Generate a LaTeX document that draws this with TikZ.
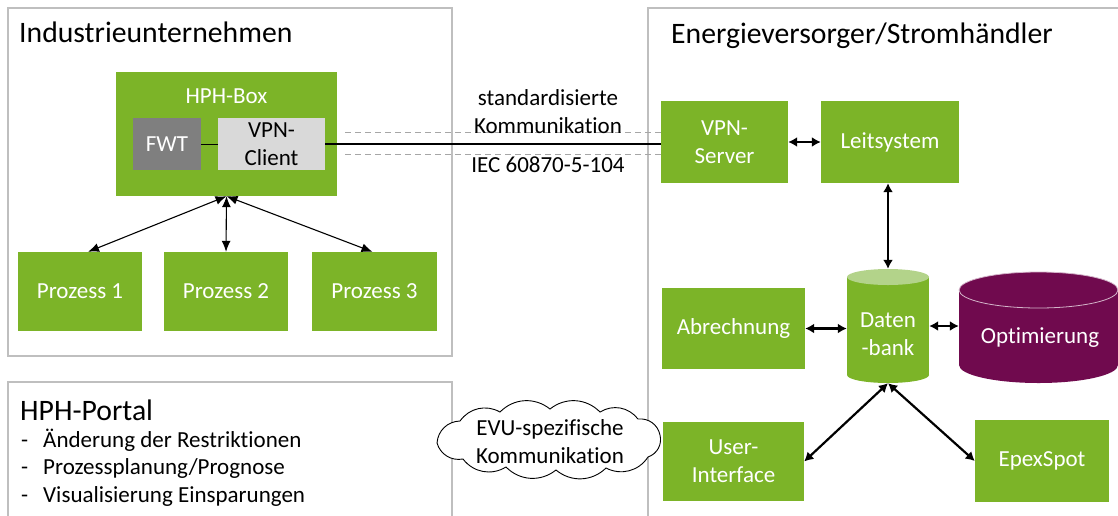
\documentclass[tikz,border=0pt]{standalone}
\usepackage{fontspec}
\setmainfont{Carlito}[Ligatures=NoCommon]
\usetikzlibrary{arrows.meta,calc}
\definecolor{leafgreen}{RGB}{124,180,40}
\definecolor{dbtop}{RGB}{179,211,138}
\definecolor{plum}{RGB}{112,10,78}
\definecolor{framegray}{RGB}{191,191,191}
\definecolor{fwtgray}{RGB}{127,127,127}
\definecolor{clientgray}{RGB}{217,217,217}
\definecolor{dashgray}{RGB}{166,166,166}
\begin{document}
\begin{tikzpicture}[x=1pt,y=-1pt,
  bodyfont/.style={font=\fontsize{23}{28}\selectfont},
  titlefont/.style={font=\fontsize{29.7}{35}\selectfont},
  greenbox/.style={fill=leafgreen, text=white, bodyfont, align=center, inner sep=0pt},
  framebox/.style={draw=framegray, line width=1.3pt},
  thinlink/.style={line width=1.1pt, {Latex[length=11pt,width=9pt]}-{Latex[length=11pt,width=9pt]}},
  thicklink/.style={line width=2.2pt, {Latex[length=9pt,width=10pt]}-{Latex[length=9pt,width=10pt]}},
  plainlabel/.style={bodyfont, align=center, inner sep=0pt},
  listtext/.style={bodyfont, anchor=base west, inner sep=0pt},
  puff/.style={bend left=42}
]
\useasboundingbox (0,0) rectangle (1118,515);

% frames of the three areas
\begin{scope}
  \clip (0,0) rectangle (1118,515);
  \draw[framebox] (8,8) rectangle (452,356);
  \draw[framebox] (8,530) |- (452,382) -- (452,530);
  \draw[framebox] (648,530) |- (1130,8);
\end{scope}

% frame titles
\node[titlefont, anchor=base west, inner sep=0pt] (titleind) at (19,42) {Industrieunternehmen};
\node[titlefont, anchor=base west, inner sep=0pt] (titleevu) at (671,43) {Energieversorger/Stromhändler};
\node[titlefont, anchor=base west, inner sep=0pt] (titleportal) at (20,420) {HPH-Portal};

% portal feature list
\node[listtext] (dash1) at (21,447) {-};
\node[listtext] (item1) at (43,447) {Änderung der Restriktionen};
\node[listtext] (dash2) at (21,474) {-};
\node[listtext] (item2) at (43,474) {Prozessplanung/Prognose};
\node[listtext] (dash3) at (21,502) {-};
\node[listtext] (item3) at (43,502) {Visualisierung Einsparungen};

% industrial side
\node[greenbox, minimum width=221pt, minimum height=124pt] (hph) at (226.5,134) {};
\node[plainlabel, text=white] (hphlabel) at (226.5,96) {HPH-Box};
\node[fill=fwtgray, text=white, bodyfont, inner sep=0pt, minimum width=68pt, minimum height=52pt] (fwt) at (167,144) {FWT};
\node[fill=clientgray, text=black, bodyfont, align=center, inner sep=0pt, minimum width=107pt, minimum height=52pt] (vpnc) at (271.5,144) {VPN-\\Client};
\node[greenbox, minimum width=124pt, minimum height=79pt] (p1) at (80,291.5) {Prozess 1};
\node[greenbox, minimum width=124pt, minimum height=79pt] (p2) at (226,291.5) {Prozess 2};
\node[greenbox, minimum width=125pt, minimum height=79pt] (p3) at (374.5,291.5) {Prozess 3};

% supplier side
\node[greenbox, minimum width=127pt, minimum height=82pt] (vpns) at (724.5,142) {VPN-\\Server};
\node[greenbox, minimum width=138pt, minimum height=82pt] (leit) at (890,142) {Leitsystem};
\node[greenbox, minimum width=143pt, minimum height=81pt] (abr) at (733.5,328.5) {Abrechnung};
\node[greenbox, minimum width=141pt, minimum height=79pt] (ui) at (733.5,461.5) {User-\\Interface};
\node[greenbox, minimum width=134pt, minimum height=82pt] (epex) at (1042,461) {EpexSpot};

% database cylinder
\fill[leafgreen] (847,277) rectangle (929,375);
\fill[leafgreen] (888,375) ellipse [x radius=41pt, y radius=8pt];
\fill[dbtop] (888,277) ellipse [x radius=41pt, y radius=8pt];
\node[inner sep=0pt, minimum width=82pt, minimum height=114pt] (db) at (888,326) {};
\node[plainlabel, text=white] (dblabel) at (888,334) {Daten\\-bank};

% optimisation cylinder
\fill[plum] (959,290) rectangle (1118,365);
\fill[plum] (1038.5,365) ellipse [x radius=79.5pt, y radius=18pt];
\filldraw[fill=plum, draw=plum!30!white, line width=0.8pt] (1038.5,290) ellipse [x radius=79.5pt, y radius=18pt];
\node[inner sep=0pt, minimum width=159pt, minimum height=111pt] (opt) at (1038.5,327.5) {};
\node[plainlabel, text=white] (optlabel) at (1040,338) {Optimierung};

% communication link between box and VPN server
\draw[line width=1pt] (fwt.east) -- (vpnc.west);
\draw[line width=1.1pt] (vpnc.east) -- (vpnc.east -| vpns.west);
\coordinate (dashtop) at (345,132);
\coordinate (dashbot) at (345,154);
\draw[dashgray, line width=1pt, dash pattern=on 6pt off 4pt] (dashtop) -- (dashtop -| vpns.west);
\draw[dashgray, line width=1pt, dash pattern=on 6pt off 4pt] (dashbot) -- (dashbot -| vpns.west);
\node[plainlabel] (stdlabel) at (548,112) {standardisierte\\Kommunikation};
\node[plainlabel] (ieclabel) at (548,165) {IEC 60870-5-104};

% connectors inside the company
\draw[thinlink] (hph.south) -- ([xshift=8pt]p1.north);
\draw[thinlink] (hph.south) -- (p2.north);
\draw[thinlink] (hph.south) -- ([xshift=-2pt]p3.north);

% connectors at the supplier
\draw[thicklink] (vpns.east) -- (leit.west);
\draw[thicklink] (db.north |- leit.south) -- (db.north);
\draw[thicklink] (abr.east) -- (abr.east -| db.west);
\draw[thicklink] (db.east) -- (db.east -| opt.west);
\draw[thicklink] (db.south) -- (ui.east);
\draw[thicklink] (db.south) -- (epex.west);

% portal communication cloud, built from puffed arcs
\draw[fill=white, line width=0.9pt]
  (437,443) to[puff] (460,421) to[puff] (500,412) to[puff] (550,409)
  to[puff] (600,412) to[puff] (638,419) to[puff] (660,435)
  to[puff] (648,457) to[puff] (606,468) to[puff] (556,470)
  to[puff] (506,467) to[puff] (463,459) to[puff] (437,443);
\node[plainlabel] (cloudlabel) at (550,441.5) {EVU-spezifische\\Kommunikation};
\end{tikzpicture}
\end{document}
